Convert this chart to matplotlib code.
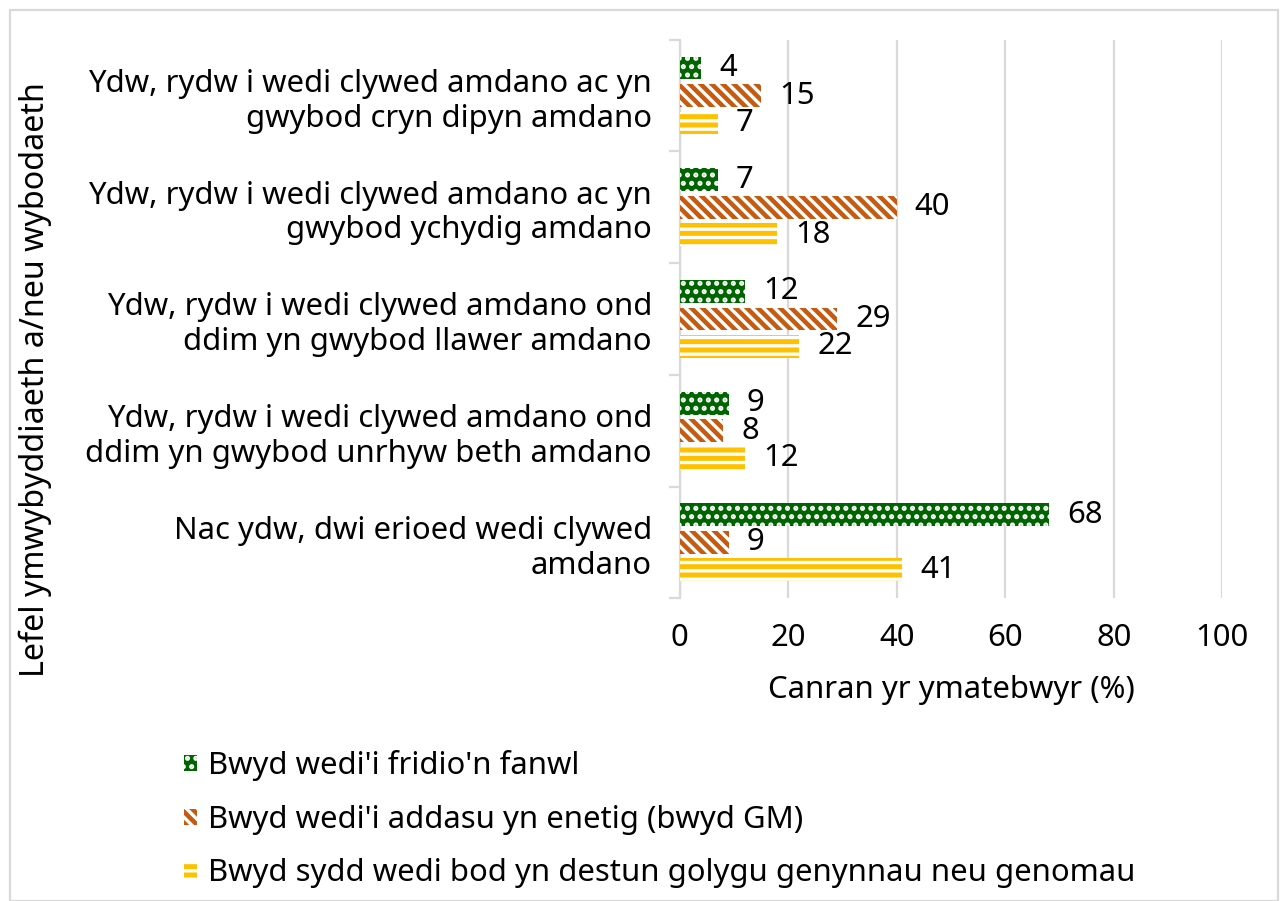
import numpy as np
import matplotlib
matplotlib.use("Agg")
import matplotlib.pyplot as plt
from matplotlib.patches import Rectangle

plt.rcParams.update({"font.family": "Noto Sans", "font.size": 11.2,
                     "hatch.linewidth": 1.2})

categories = [
    "Ydw, rydw i wedi clywed amdano ac yn\ngwybod cryn dipyn amdano",
    "Ydw, rydw i wedi clywed amdano ac yn\ngwybod ychydig amdano",
    "Ydw, rydw i wedi clywed amdano ond\nddim yn gwybod llawer amdano",
    "Ydw, rydw i wedi clywed amdano ond\nddim yn gwybod unrhyw beth amdano",
    "Nac ydw, dwi erioed wedi clywed\namdano",
]
series_names = [
    "Bwyd wedi'i fridio'n fanwl",
    "Bwyd wedi'i addasu yn enetig (bwyd GM)",
    "Bwyd sydd wedi bod yn destun golygu genynnau neu genomau",
]
precision_bred = [4, 7, 12, 9, 68]
gm_food = [15, 40, 29, 8, 9]
gene_edited = [7, 18, 22, 12, 41]

colors = ["#006400", "#C55A11", "#FFC000"]
hatches = ["....", "\\" * 6, "----"]

fig = plt.figure(figsize=(6.4, 4.505), dpi=200)
ax = fig.add_axes([0.531, 0.336, 0.424, 0.62])

y = np.arange(len(categories))
pitch, h = 0.246, 0.205
bars = []
for k, (vals, col, hat, name) in enumerate(zip(
        [precision_bred, gm_food, gene_edited], colors, hatches, series_names)):
    b = ax.barh(y + (k - 1) * pitch, vals, h, color=col, edgecolor="white",
                hatch=hat, linewidth=0, label=name, zorder=3)
    ax.bar_label(b, labels=[str(v) for v in vals], padding=6.5)
    bars.append(b)

ax.set_xlim(0, 100)
ax.set_ylim(len(categories) - 0.5, -0.5)
ax.set_xticks(range(0, 101, 20))
ax.grid(axis="x", color="#D9D9D9", linewidth=0.8, zorder=0)
ax.set_yticks(y)
ax.set_yticklabels(categories, linespacing=1.2)
ax.set_yticks(np.arange(-0.5, len(categories)), minor=True)
ax.tick_params(axis="y", which="major", length=0, pad=10)
ax.tick_params(axis="y", which="minor", length=4, color="#D9D9D9", width=0.8)
ax.tick_params(axis="x", length=0, pad=9)
for s in ["top", "right", "bottom"]:
    ax.spines[s].set_visible(False)
ax.spines["left"].set_color("#D9D9D9")
ax.spines["left"].set_linewidth(0.8)
ax.set_xlabel("Canran yr ymatebwyr (%)", labelpad=8)

fig.text(35 / 1280, 1 - 380 / 901, "Lefel ymwybyddiaeth a/neu wybodaeth",
         rotation=90, ha="center", va="center", fontsize=11.6)

fig.legend(handles=bars, labels=series_names, loc="upper left",
           bbox_to_anchor=(172 / 1280, 1 - 738 / 901), frameon=False,
           handlelength=0.4, handleheight=0.4,
           handletextpad=0.35, labelspacing=0.75, borderaxespad=0)

fig.patches.append(Rectangle((10 / 1280, 0), 1268 / 1280, 1 - 10 / 901,
                             transform=fig.transFigure, fill=False,
                             edgecolor="#D9D9D9", linewidth=0.8))

fig.savefig("out.png", dpi=200)
